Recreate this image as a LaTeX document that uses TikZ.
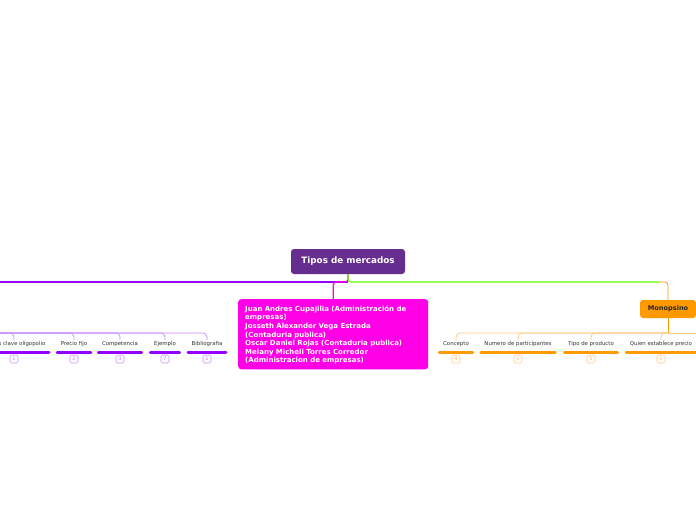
\documentclass[tikz,border=0pt]{standalone}
\usepackage{fontspec}
\setmainfont{DejaVu Sans}
\usetikzlibrary{positioning}
\definecolor{rootpurple}{RGB}{102,45,145}
\definecolor{branchviolet}{RGB}{148,0,255}
\definecolor{lilac}{RGB}{200,140,255}
\definecolor{authormag}{RGB}{255,0,230}
\definecolor{limegreen}{RGB}{102,255,0}
\definecolor{monoorange}{RGB}{255,153,0}
\definecolor{paleorange}{RGB}{255,200,130}
\definecolor{leafgrey}{RGB}{51,51,51}

\begin{document}
\begin{tikzpicture}[x=1pt,y=-1pt,
    topic/.style={rounded corners=3pt, inner sep=0pt, font=\bfseries\fontsize{8.8}{10}\selectfont},
    leaf/.style={font=\fontsize{5.4}{6}\selectfont, text=leafgrey, inner xsep=3.5pt, inner ysep=1.5pt},
    badge/.style={draw, rounded corners=1.5pt, line width=0.6pt, minimum size=8pt, inner sep=0pt, font=\fontsize{5}{5}\selectfont},
    trunk/.style={line width=1.2pt, rounded corners=3pt},
    twig/.style={line width=0.8pt, rounded corners=4pt},
    bar/.style={line width=3pt, line cap=round}]
    \useasboundingbox (0,0) rectangle (696,520);
    \clip (0,0) rectangle (696,520);

    % central topic
    \node[topic, fill=rootpurple, text=white, minimum width=114pt, minimum height=25pt] (root) at (348,261.5) {Tipos de mercados};

    % authors
    \node[anchor=north west, fill=authormag, rounded corners=3pt, text=white, align=left,
          font=\bfseries\fontsize{7}{8.6}\selectfont, text width=176pt, inner xsep=7pt, inner ysep=5pt,
          minimum height=70pt] (autores) at (238,299)
        {\rule{0pt}{7pt}Juan Andres Cupajilia (Administración de\\empresas)\\Josseth Alexander Vega Estrada\\(Contaduria publica)\\Oscar Daniel Rojas (Contaduria publica)\\Melany Micheli Torres Corredor\\(Administracion de empresas)};

    % monopsino topic
    \node[topic, fill=monoorange, text=black!85, font=\bfseries\fontsize{6.6}{7}\selectfont, minimum width=56pt, minimum height=18pt] (mono) at (668,309) {Monopsino};

    \coordinate (rootjoin) at (348,282);
    \coordinate (leftend) at (-5,282);
    \coordinate (monojoin) at (660,282);
    \coordinate (lefthub) at (-5,333);
    \coordinate (righthub) at (668,333);
    \coordinate (rightend) at (700,333);

    % main branches
    \draw[trunk, branchviolet] (rootjoin) -- (leftend);
    \draw[trunk, authormag] (root.south) -- (rootjoin) -| (autores.north);
    \draw[trunk, limegreen] (root.south) |- (monojoin);
    \draw[twig, monoorange, rounded corners=3pt] (monojoin) -| (mono.north);
    \draw[line width=1pt, monoorange] (mono.south) -- (righthub);

    % left subtopics (parent off the page)
    \coordinate (oligotop) at (14,340);
    \node[leaf, anchor=east] (oligo) at (49,344.5) {s clave oligopolio};
    \draw[twig, lilac] (lefthub) -| (oligotop);
    \draw[bar, branchviolet] (-10,352) -- (oligo.east |- 0,352);
    \node[badge, draw=lilac, text=lilac!80!branchviolet] (oligo-n) at (14,359) {1};
    \foreach \nm/\x/\txt/\n in {prec/74/Precio fijo/2, comp/120/Competencia/3, ejem/165/Ejemplo/7, bibl/207/Bibliografia/1} {
        \node[leaf] (\nm) at (\x,344.5) {\txt};
        \draw[twig, lilac] (lefthub) -| (\nm.north);
        \draw[bar, branchviolet] (\nm.west |- 0,352) -- (\nm.east |- 0,352);
        \node[badge, draw=lilac, text=lilac!80!branchviolet] (\nm-n) at (\x,359) {\n};
    }

    % monopsino subtopics
    \draw[twig, paleorange] (righthub) -- (rightend);
    \foreach \nm/\x/\txt/\n in {conc/456/Concepto/4, nume/518/Numero de participantes/1, tipo/591/Tipo de producto/5, quie/661/Quien establece precio/1} {
        \node[leaf] (\nm) at (\x,344.5) {\txt};
        \draw[twig, paleorange] (righthub) -| (\nm.north);
        \draw[bar, monoorange] (\nm.west |- 0,352) -- (\nm.east |- 0,352);
        \node[badge, draw=paleorange, text=paleorange!70!monoorange] (\nm-n) at (\x,359) {\n};
    }
\end{tikzpicture}
\end{document}
